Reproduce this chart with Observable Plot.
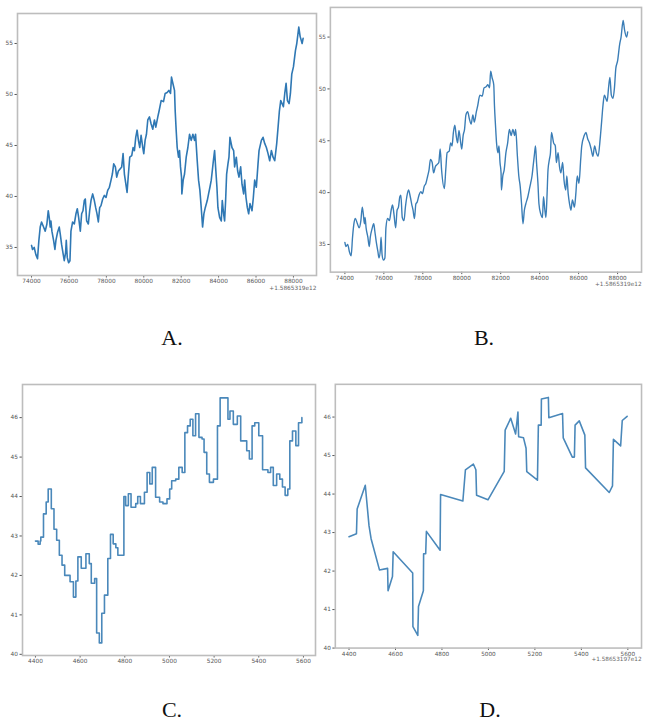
<!DOCTYPE html>
<html>
<head>
<meta charset="utf-8">
<script src="https://cdn.jsdelivr.net/npm/d3@7"></script>
<script src="https://cdn.jsdelivr.net/npm/@observablehq/plot@0.6"></script>
<style>
  html, body { margin: 0; padding: 0; background: #fff; }
  #root { position: relative; width: 645px; height: 722px; overflow: hidden; background: #fff; }
  .panel { position: absolute; }
  .panel svg { overflow: visible; background: transparent !important; }
  .lbl { position: absolute; font-family: "Liberation Serif", "DejaVu Serif", serif; font-size: 22px; color: #111; transform: translateX(-50%); }
</style>
</head>
<body>
<div id="root"></div>
<script>
// ---- Panels A & B: full series (x offset from 1.5865319e12) ----
const abTime = [74000,74054,74143,74232,74321,74393,74464,74536,74643,74732,74821,74893,74946,75000,75036,75089,75179,75250,75304,75393,75482,75536,75607,75696,75750,75821,75857,75911,75982,76054,76107,76196,76286,76375,76446,76518,76607,76679,76750,76821,76875,76946,77036,77107,77179,77268,77357,77429,77500,77571,77643,77714,77804,77893,77982,78071,78161,78250,78321,78393,78482,78554,78643,78732,78821,78893,78964,79107,79179,79250,79357,79429,79500,79571,79643,79714,79786,79857,79946,80000,80071,80143,80214,80304,80393,80482,80571,80643,80750,80821,80929,81054,81143,81250,81339,81429,81482,81554,81643,81679,81732,81786,81857,81911,81964,82018,82036,82107,82179,82268,82357,82446,82536,82625,82714,82768,82857,82929,83000,83071,83143,83214,83286,83393,83464,83536,83607,83661,83732,83786,83839,83911,83964,84054,84143,84196,84268,84321,84375,84429,84500,84554,84607,84714,84804,84857,84946,85018,85089,85179,85250,85339,85393,85464,85536,85607,85679,85786,85857,85929,86018,86107,86161,86286,86375,86464,86554,86643,86732,86821,86911,87000,87107,87179,87250,87321,87393,87464,87536,87607,87679,87768,87839,87911,88000,88107,88179,88286,88357,88464,88518];
const abValue = [35.2,34.8,35.0,34.3,33.9,35.7,37.0,37.5,37.0,36.6,37.3,38.6,37.95,37.0,37.6,36.6,35.7,34.8,35.7,36.5,37.0,36.3,35.3,34.3,33.7,34.5,35.7,34.0,33.5,33.7,36.6,37.5,37.3,38.3,38.8,37.95,36.6,38.3,38.6,39.6,39.75,37.6,37.3,38.6,39.6,40.25,39.6,38.9,38.3,37.5,38.9,39.1,39.75,40.1,39.9,40.6,40.9,41.6,42.2,43.2,42.9,41.9,42.5,42.7,42.9,44.2,42.2,40.4,42.2,43.85,44.0,44.8,44.5,45.8,46.5,45.5,44.8,46.0,44.8,44.2,45.5,46.1,47.5,47.8,47.1,46.6,47.5,46.8,47.8,48.4,49.4,49.3,50.1,50.2,50.4,50.1,51.7,51.1,50.4,48.4,46.5,44.8,43.85,44.5,42.9,41.9,40.25,41.6,42.2,43.85,44.8,46.1,45.5,46.1,45.5,46.1,43.5,41.6,40.6,38.9,37.0,38.3,38.9,39.6,40.25,40.9,41.6,42.5,43.7,44.5,42.9,40.9,38.9,37.95,37.6,39.6,38.3,37.6,39.6,42.2,43.2,43.85,45.8,44.8,44.5,42.9,43.85,42.5,41.9,42.9,41.2,40.25,41.6,39.9,38.9,38.3,39.3,38.6,39.9,41.6,40.9,43.2,44.5,45.5,45.8,45.2,44.8,44.2,43.5,44.5,43.85,43.5,45.2,46.8,48.4,49.4,49.1,48.8,50.1,51.1,49.4,49.1,50.1,52.0,52.7,54.3,55.0,56.6,55.7,55.0,55.5];
const abTicksX = [74000,76000,78000,80000,82000,84000,86000,88000];
const abTicksY = [35,40,45,50,55];

// ---- Panel C: zoomed, step series ----
const cTime = [4400,4412,4421,4424,4436,4448,4457,4471,4483,4495,4507,4519,4531,4555,4570,4581,4590,4605,4626,4641,4650,4665,4674,4686,4697,4709,4724,4736,4748,4760,4769,4796,4804,4816,4828,4849,4858,4870,4888,4900,4912,4923,4938,4956,4971,4989,5001,5010,5028,5042,5057,5069,5081,5093,5105,5117,5132,5146,5155,5167,5179,5197,5215,5227,5262,5271,5286,5304,5319,5346,5358,5370,5382,5400,5417,5441,5453,5465,5480,5494,5506,5518,5530,5539,5551,5566,5578,5593];
const cValue = [42.87,42.79,42.87,42.97,43.56,43.86,44.19,43.69,43.17,42.89,42.51,42.26,42.0,41.84,41.45,41.86,42.47,42.18,42.55,42.3,41.8,41.92,40.54,40.29,41.04,41.5,42.43,43.04,42.8,42.7,42.51,44.0,43.77,44.07,43.73,43.82,44.0,43.82,44.11,44.61,44.32,44.74,43.98,43.86,43.82,43.94,44.19,44.4,44.44,44.74,44.61,45.62,45.79,45.96,45.54,46.1,45.5,45.46,45.12,44.57,44.36,44.44,45.79,46.5,45.96,46.17,45.83,46.04,45.41,45.16,44.95,45.79,45.87,45.54,44.68,44.61,44.74,44.28,44.57,44.44,44.24,44.03,44.19,45.41,45.66,45.29,45.87,46.0];

// ---- Panel D: zoomed, sparse line ----
const dTime = [4400,4432,4435,4470,4486,4495,4531,4566,4568,4587,4590,4674,4675,4696,4699,4720,4721,4730,4733,4792,4794,4890,4901,4935,4946,4949,4998,5068,5072,5096,5117,5127,5130,5151,5162,5165,5211,5215,5227,5228,5258,5260,5319,5322,5361,5370,5373,5391,5415,5418,5520,5534,5538,5569,5576,5597];
const dValue = [42.89,42.97,43.61,44.23,43.18,42.84,42.03,42.07,41.49,41.86,42.5,41.95,40.56,40.33,41.08,41.49,42.45,42.45,43.03,42.54,43.99,43.82,44.63,44.78,44.63,43.97,43.85,44.59,45.66,45.97,45.56,46.13,45.49,45.46,45.19,44.58,44.36,45.79,45.79,46.47,46.51,45.98,46.09,45.46,44.96,44.96,45.79,45.9,45.53,44.68,44.04,44.21,45.42,45.25,45.91,46.02];
const cdTicksX = [4400,4600,4800,5000,5200,5400,5600];
const cdTicksY = [40,41,42,43,44,45,46];

const offsetAB = "+1.5865319e12";
const offsetD = "+1.58653197e12";
const panelLabels = ["A.", "B.", "C.", "D."];

const root = document.getElementById("root");

function toRows(xs, ys) { return xs.map((x, i) => ({x, y: ys[i]})); }

function panel({rows, left, top, width, height, mL, mR, mT, mB, xDomain, yDomain, xTicks, yTicks, stroke, sw, curve, offset, offDy}) {
  const marks = [
    Plot.frame({stroke: "#bdbdbd", strokeWidth: 1.6}),
    Plot.line(rows, {x: "x", y: "y", stroke, strokeWidth: sw, curve})
  ];
  if (offset) {
    marks.push(Plot.text([offset], {frameAnchor: "bottom-right", text: d => d, dy: offDy, fontSize: 5.8, fill: "#666"}));
  }
  const svg = Plot.plot({
    width, height,
    marginLeft: mL, marginRight: mR, marginTop: mT, marginBottom: mB,
    style: {fontFamily: "DejaVu Sans, sans-serif", fontSize: "5.8px", color: "#555", background: "transparent", overflow: "visible"},
    x: {domain: xDomain, ticks: xTicks, tickFormat: d => String(d), tickSize: 2.5, tickPadding: 1, label: null},
    y: {domain: yDomain, ticks: yTicks, tickFormat: d => String(d), tickSize: 2.5, tickPadding: 2, label: null},
    marks
  });
  const div = document.createElement("div");
  div.className = "panel";
  div.style.left = left + "px";
  div.style.top = top + "px";
  div.appendChild(svg);
  root.appendChild(div);
}

const abRows = toRows(abTime, abValue);

panel({rows: abRows, left: 0, top: 0, width: 322, height: 295, mL: 17, mR: 6, mT: 13, mB: 20,
  xDomain: [73250, 89233], yDomain: [32.25, 57.94], xTicks: abTicksX, yTicks: abTicksY,
  stroke: "#2f78b4", sw: 1.6, curve: "linear", offset: offsetAB, offDy: 14});

panel({rows: abRows, left: 320, top: 0, width: 329, height: 295, mL: 10, mR: 4, mT: 7, mB: 20,
  xDomain: [73255, 89230], yDomain: [32.33, 57.86], xTicks: abTicksX, yTicks: abTicksY,
  stroke: "#3a7db6", sw: 1.4, curve: "monotone-x", offset: offsetAB, offDy: 14});

panel({rows: toRows(cTime, cValue), left: 0, top: 370, width: 322, height: 300, mL: 22, mR: 7, mT: 14, mB: 15,
  xDomain: [4342, 5654], yDomain: [39.97, 46.84], xTicks: cdTicksX, yTicks: cdTicksY,
  stroke: "#4a88ba", sw: 1.6, curve: "step-after", offset: null});

panel({rows: toRows(dTime, dValue), left: 320, top: 370, width: 329, height: 300, mL: 15, mR: 4, mT: 14, mB: 19,
  xDomain: [4341, 5659], yDomain: [40.0, 46.85], xTicks: cdTicksX, yTicks: cdTicksY,
  stroke: "#4a88ba", sw: 1.6, curve: "linear", offset: offsetD, offDy: 13});

const labelPos = [[172, 325], [484, 325], [172, 697], [490, 697]];
panelLabels.forEach((t, i) => {
  const d = document.createElement("div");
  d.className = "lbl";
  d.textContent = t;
  d.style.left = labelPos[i][0] + "px";
  d.style.top = labelPos[i][1] + "px";
  root.appendChild(d);
});
</script>
</body>
</html>
